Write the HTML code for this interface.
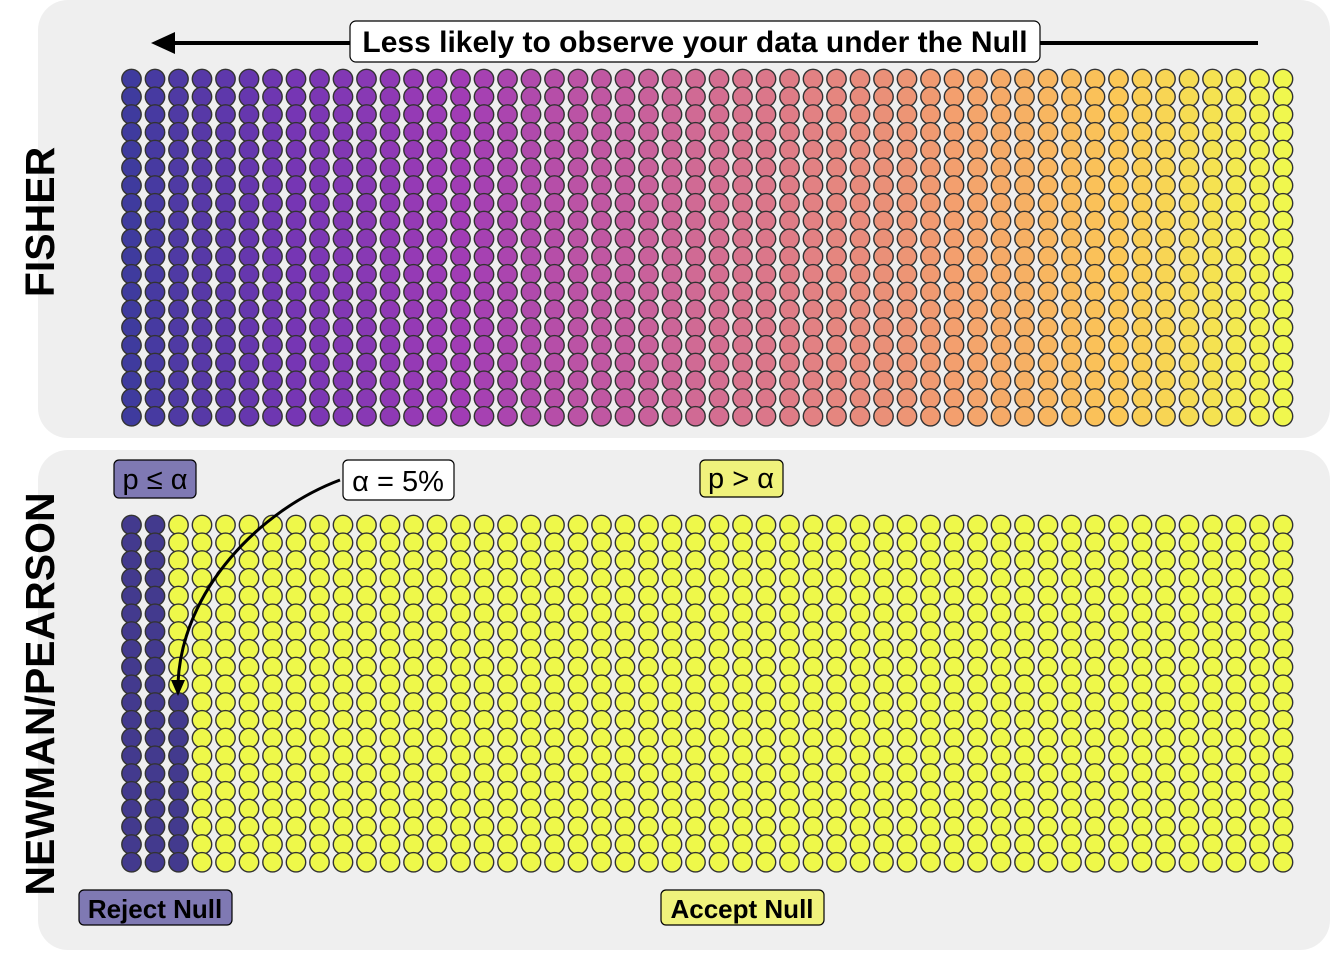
<!DOCTYPE html>
<html><head><meta charset="utf-8"><style>
html,body{margin:0;padding:0;background:#fff;}
svg{display:block;font-family:"Liberation Sans",sans-serif;}
</style></head><body>
<svg width="1344" height="960" viewBox="0 0 1344 960" xmlns="http://www.w3.org/2000/svg" xmlns:xlink="http://www.w3.org/1999/xlink">
<defs>
<g id="A" stroke="#333" stroke-width="1.4">
<circle cx="0" cy="0" r="9.7"/><circle cx="0" cy="17.75" r="9.7"/><circle cx="0" cy="35.5" r="9.7"/><circle cx="0" cy="53.25" r="9.7"/><circle cx="0" cy="71" r="9.7"/><circle cx="0" cy="88.75" r="9.7"/><circle cx="0" cy="106.5" r="9.7"/><circle cx="0" cy="124.25" r="9.7"/><circle cx="0" cy="142" r="9.7"/><circle cx="0" cy="159.75" r="9.7"/>
</g>
<g id="B" stroke="#333" stroke-width="1.4">
<circle cx="0" cy="177.5" r="9.7"/><circle cx="0" cy="195.25" r="9.7"/><circle cx="0" cy="213" r="9.7"/><circle cx="0" cy="230.75" r="9.7"/><circle cx="0" cy="248.5" r="9.7"/><circle cx="0" cy="266.25" r="9.7"/><circle cx="0" cy="284" r="9.7"/><circle cx="0" cy="301.75" r="9.7"/><circle cx="0" cy="319.5" r="9.7"/><circle cx="0" cy="337.25" r="9.7"/>
</g>
<g id="C"><use href="#A" xlink:href="#A"/><use href="#B" xlink:href="#B"/></g>
<g id="Y2"><use href="#C" xlink:href="#C"/><use href="#C" xlink:href="#C" x="23.5"/></g>
<g id="Y4"><use href="#Y2" xlink:href="#Y2"/><use href="#Y2" xlink:href="#Y2" x="47"/></g>
<g id="Y8"><use href="#Y4" xlink:href="#Y4"/><use href="#Y4" xlink:href="#Y4" x="94"/></g>
<g id="Y16"><use href="#Y8" xlink:href="#Y8"/><use href="#Y8" xlink:href="#Y8" x="188"/></g>
<g id="Y32"><use href="#Y16" xlink:href="#Y16"/><use href="#Y16" xlink:href="#Y16" x="376"/></g>
</defs>
<rect x="38" y="0" width="1292" height="438" rx="30" fill="#efefef"/>
<rect x="38" y="450" width="1292" height="500" rx="30" fill="#efefef"/>
<g transform="translate(0,79)">
<use href="#C" xlink:href="#C" x="131.5" fill="rgb(63,59,158)"/>
<use href="#C" xlink:href="#C" x="155" fill="rgb(71,58,161)"/>
<use href="#C" xlink:href="#C" x="178.5" fill="rgb(79,58,164)"/>
<use href="#C" xlink:href="#C" x="202" fill="rgb(87,57,167)"/>
<use href="#C" xlink:href="#C" x="225.5" fill="rgb(94,56,171)"/>
<use href="#C" xlink:href="#C" x="249" fill="rgb(102,55,174)"/>
<use href="#C" xlink:href="#C" x="272.5" fill="rgb(110,55,177)"/>
<use href="#C" xlink:href="#C" x="296" fill="rgb(118,54,180)"/>
<use href="#C" xlink:href="#C" x="319.5" fill="rgb(124,55,180)"/>
<use href="#C" xlink:href="#C" x="343" fill="rgb(130,56,180)"/>
<use href="#C" xlink:href="#C" x="366.5" fill="rgb(136,57,180)"/>
<use href="#C" xlink:href="#C" x="390" fill="rgb(143,57,181)"/>
<use href="#C" xlink:href="#C" x="413.5" fill="rgb(149,58,181)"/>
<use href="#C" xlink:href="#C" x="437" fill="rgb(155,59,181)"/>
<use href="#C" xlink:href="#C" x="460.5" fill="rgb(161,60,181)"/>
<use href="#C" xlink:href="#C" x="484" fill="rgb(166,65,178)"/>
<use href="#C" xlink:href="#C" x="507.5" fill="rgb(171,69,175)"/>
<use href="#C" xlink:href="#C" x="531" fill="rgb(176,74,172)"/>
<use href="#C" xlink:href="#C" x="554.5" fill="rgb(182,78,168)"/>
<use href="#C" xlink:href="#C" x="578" fill="rgb(187,83,165)"/>
<use href="#C" xlink:href="#C" x="601.5" fill="rgb(192,87,162)"/>
<use href="#C" xlink:href="#C" x="625" fill="rgb(197,92,159)"/>
<use href="#C" xlink:href="#C" x="648.5" fill="rgb(201,97,155)"/>
<use href="#C" xlink:href="#C" x="672" fill="rgb(204,101,152)"/>
<use href="#C" xlink:href="#C" x="695.5" fill="rgb(208,106,148)"/>
<use href="#C" xlink:href="#C" x="719" fill="rgb(212,110,145)"/>
<use href="#C" xlink:href="#C" x="742.5" fill="rgb(216,115,141)"/>
<use href="#C" xlink:href="#C" x="766" fill="rgb(219,119,138)"/>
<use href="#C" xlink:href="#C" x="789.5" fill="rgb(223,124,134)"/>
<use href="#C" xlink:href="#C" x="813" fill="rgb(226,129,131)"/>
<use href="#C" xlink:href="#C" x="836.5" fill="rgb(229,134,127)"/>
<use href="#C" xlink:href="#C" x="860" fill="rgb(232,139,124)"/>
<use href="#C" xlink:href="#C" x="883.5" fill="rgb(234,144,120)"/>
<use href="#C" xlink:href="#C" x="907" fill="rgb(237,149,117)"/>
<use href="#C" xlink:href="#C" x="930.5" fill="rgb(240,154,113)"/>
<use href="#C" xlink:href="#C" x="954" fill="rgb(243,159,110)"/>
<use href="#C" xlink:href="#C" x="977.5" fill="rgb(244,165,107)"/>
<use href="#C" xlink:href="#C" x="1001" fill="rgb(245,170,103)"/>
<use href="#C" xlink:href="#C" x="1024.5" fill="rgb(246,176,100)"/>
<use href="#C" xlink:href="#C" x="1048" fill="rgb(248,182,96)"/>
<use href="#C" xlink:href="#C" x="1071.5" fill="rgb(249,188,93)"/>
<use href="#C" xlink:href="#C" x="1095" fill="rgb(250,193,89)"/>
<use href="#C" xlink:href="#C" x="1118.5" fill="rgb(251,199,86)"/>
<use href="#C" xlink:href="#C" x="1142" fill="rgb(249,206,85)"/>
<use href="#C" xlink:href="#C" x="1165.5" fill="rgb(248,213,84)"/>
<use href="#C" xlink:href="#C" x="1189" fill="rgb(246,220,83)"/>
<use href="#C" xlink:href="#C" x="1212.5" fill="rgb(245,226,81)"/>
<use href="#C" xlink:href="#C" x="1236" fill="rgb(243,233,80)"/>
<use href="#C" xlink:href="#C" x="1259.5" fill="rgb(242,240,79)"/>
<use href="#C" xlink:href="#C" x="1283" fill="rgb(240,247,78)"/>
</g>
<g transform="translate(0,525)">
<use href="#Y2" xlink:href="#Y2" x="131.5" fill="rgb(67,58,142)"/>
<use href="#A" xlink:href="#A" x="178.5" fill="rgb(238,248,74)"/>
<use href="#B" xlink:href="#B" x="178.5" fill="rgb(67,58,142)"/>
<g fill="rgb(238,248,74)">
<use href="#Y32" xlink:href="#Y32" x="202"/>
<use href="#Y8" xlink:href="#Y8" x="954"/>
<use href="#Y4" xlink:href="#Y4" x="1142"/>
<use href="#Y2" xlink:href="#Y2" x="1236"/>
<use href="#C" xlink:href="#C" x="1283"/>
</g>
</g>
<line x1="168" y1="43" x2="1258" y2="43" stroke="#000" stroke-width="4"/>
<polygon points="151,43 175,32 175,54" fill="#000"/>
<rect x="350" y="21" width="690" height="41" rx="6" fill="#fff" stroke="#000" stroke-width="1.2"/>
<text x="695" y="52" text-anchor="middle" font-size="30" font-weight="bold">Less likely to observe your data under the Null</text>
<text transform="translate(54,222) rotate(-90)" text-anchor="middle" font-size="41" font-weight="bold">FISHER</text>
<text transform="translate(54,694) rotate(-90)" text-anchor="middle" font-size="41" font-weight="bold">NEWMAN/PEARSON</text>
<rect x="114" y="460" width="82" height="38" rx="5" fill="#7f79b3" stroke="#000" stroke-width="1.2"/>
<text x="155" y="489" text-anchor="middle" font-size="29">p ≤ α</text>
<rect x="700" y="460" width="83" height="37" rx="5" fill="#f0f27c" stroke="#000" stroke-width="1.2"/>
<text x="741" y="488" text-anchor="middle" font-size="29">p &gt; α</text>
<rect x="79" y="890" width="153" height="35" rx="5" fill="#7f79b3" stroke="#000" stroke-width="1.2"/>
<text x="155" y="918" text-anchor="middle" font-size="26" font-weight="bold">Reject Null</text>
<rect x="661" y="890" width="163" height="35" rx="5" fill="#f0f27c" stroke="#000" stroke-width="1.2"/>
<text x="742" y="918" text-anchor="middle" font-size="26" font-weight="bold">Accept Null</text>
<path d="M340,480 C260,510 182,590 178,683" fill="none" stroke="#000" stroke-width="3"/>
<polygon points="178,696 171,680 185,680" fill="#000"/>
<rect x="343" y="460" width="111" height="40" rx="5" fill="#fff" stroke="#000" stroke-width="1.2"/>
<text x="398" y="491" text-anchor="middle" font-size="29">α = 5%</text>
</svg>
</body></html>
